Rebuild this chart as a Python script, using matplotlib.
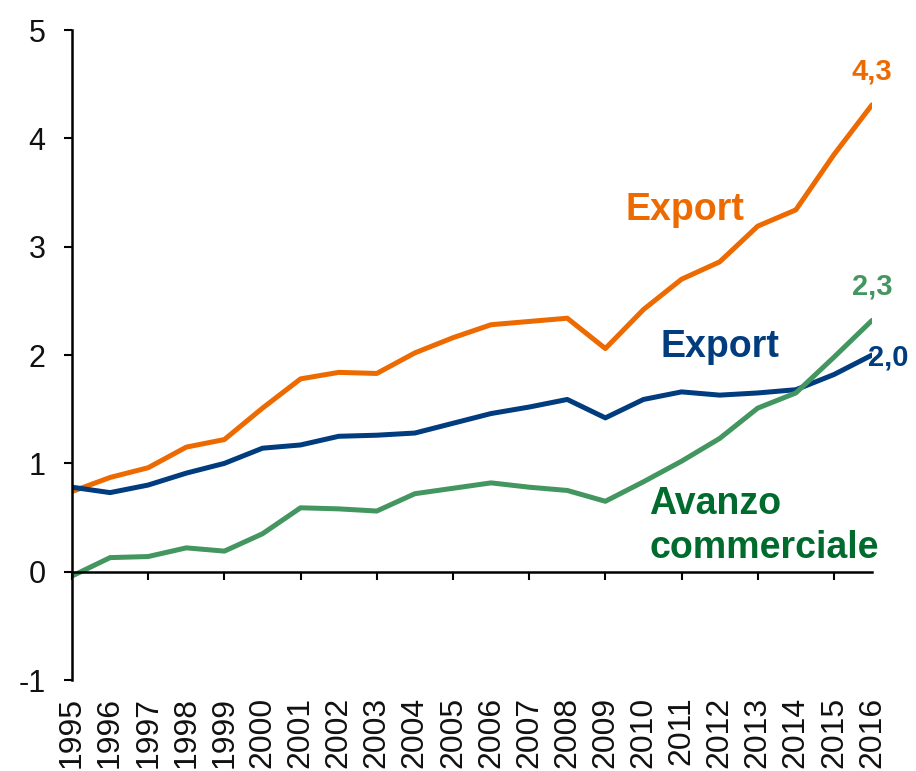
import matplotlib.pyplot as plt

years = list(range(1995, 2017))

export_orange = [0.74, 0.87, 0.96, 1.15, 1.22, 1.51, 1.78, 1.84, 1.83, 2.02, 2.16,
                 2.28, 2.31, 2.34, 2.06, 2.42, 2.70, 2.86, 3.19, 3.34, 3.85, 4.31]
export_blue = [0.78, 0.73, 0.80, 0.91, 1.00, 1.14, 1.17, 1.25, 1.26, 1.28, 1.37,
               1.46, 1.52, 1.59, 1.42, 1.59, 1.66, 1.63, 1.65, 1.68, 1.82, 2.00]
avanzo = [-0.04, 0.13, 0.14, 0.22, 0.19, 0.35, 0.59, 0.58, 0.56, 0.72, 0.77,
          0.82, 0.78, 0.75, 0.65, 0.83, 1.02, 1.23, 1.51, 1.65, 1.98, 2.32]

ORANGE = "#ED6A00"
BLUE = "#003C7E"
GREEN = "#43965F"
GREEN_TXT = "#006B2D"

plt.rcParams['font.family'] = ['Liberation Sans', 'DejaVu Sans']
plt.rcParams['axes.unicode_minus'] = False

fig = plt.figure(figsize=(9.16, 7.71), dpi=100)
ax = fig.add_axes([0.0786, 0.118, 0.8734, 0.843])

ax.plot(years, export_orange, color=ORANGE, lw=3.6, solid_capstyle='round')
ax.plot(years, export_blue, color=BLUE, lw=3.6, solid_capstyle='round')
ax.plot(years, avanzo, color=GREEN, lw=3.6, solid_capstyle='round')

ax.set_xlim(years[0], years[-1])
ax.set_ylim(-1, 5)

# axis styling: y axis on the left, x axis line through zero
for s in ['top', 'right']:
    ax.spines[s].set_visible(False)
ax.spines['bottom'].set_position(('data', 0))
ax.spines['left'].set_linewidth(1.8)
ax.spines['bottom'].set_linewidth(1.8)
ax.set_yticks(range(-1, 6))
ax.tick_params(axis='y', direction='out', length=6, width=1.5, pad=13,
               labelsize=22, labelcolor='#111111')
ax.set_xticks(years[::2])
ax.tick_params(axis='x', direction='out', length=6, width=1.5, labelbottom=False)

# year labels along the bottom of the plot area
sec = ax.secondary_xaxis(0)
sec.set_xticks(years)
sec.set_xticklabels([str(y) for y in years], rotation=90, fontsize=23, color='#111111')
sec.tick_params(length=0, pad=12)
sec.spines['bottom'].set_visible(False)

# series labels
ax.text(2011.1, 3.34, "Export", color=ORANGE, fontsize=27, fontweight='bold',
        ha='center', va='center')
ax.text(2012.0, 2.07, "Export", color=BLUE, fontsize=27, fontweight='bold',
        ha='center', va='center')
ax.text(2010.15, 0.535, "Avanzo", color=GREEN_TXT, fontsize=27,
        fontweight='bold', ha='left', va='baseline')
ax.text(2010.15, 0.13, "commerciale", color=GREEN_TXT, fontsize=27,
        fontweight='bold', ha='left', va='baseline')

# end values
ax.text(years[-1], export_orange[-1] + 0.31, f"{export_orange[-1]:.1f}".replace('.', ','),
        color=ORANGE, fontsize=21, fontweight='bold', ha='center', va='center')
ax.text(years[-1], avanzo[-1] + 0.31, f"{avanzo[-1]:.1f}".replace('.', ','),
        color=GREEN, fontsize=21, fontweight='bold', ha='center', va='center')
ax.text(years[-1] - 0.1, export_blue[-1] - 0.02, f"{export_blue[-1]:.1f}".replace('.', ','),
        color=BLUE, fontsize=21, fontweight='bold', ha='left', va='center')

fig.savefig("out.png", dpi=100)
